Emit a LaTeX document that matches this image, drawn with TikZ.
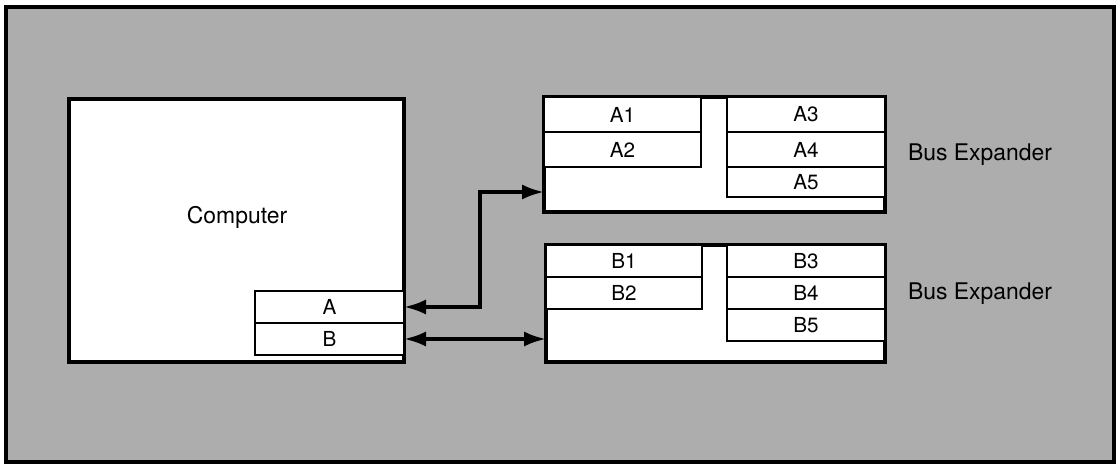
\documentclass[tikz,border=0pt]{standalone}
\usepackage{fontspec}
\setsansfont{TeX Gyre Heros}
\usetikzlibrary{calc, positioning}
\usetikzlibrary{arrows.meta}

\def\u{0.025}

\begin{document}
\begin{tikzpicture}[
    x=0.025cm,
    y=-0.025cm,
    slot/.style={draw, fill=white, line width=1.9pt, inner sep=0pt, outer sep=0pt,
        anchor=north west, font=\sffamily\fontsize{14.7}{16}\selectfont},
    case/.style={draw, fill=white, line width=2.2pt, inner sep=0pt, outer sep=0pt,
        anchor=north west},
    bus/.style={line width=2.6pt, {Latex[length=0.55cm, width=0.38cm]}-{Latex[length=0.55cm, width=0.38cm]}},
    tag/.style={font=\sffamily\fontsize{16.3}{18}\selectfont}
]
\useasboundingbox (0,0) rectangle (1117,464);

% Background panel
\draw[line width=2.4pt, fill=black!32] (6,7) rectangle (1114,462);

% Computer with its two ports
\node[case, minimum width={335*\u cm}, minimum height={263*\u cm}] (comp) at (69,99) {};
\node[tag] (complabel) at (237,217) {Computer};
\node[slot, minimum width={149*\u cm}, minimum height={32*\u cm}] (portA) at (255,291) {A};
\node[slot, minimum width={149*\u cm}, minimum height={32*\u cm}] (portB) at (255,323) {B};

% Bus expander A
\node[case, minimum width={341*\u cm}, minimum height={115*\u cm}] (expA) at (544,97) {};
\node[slot, minimum width={157*\u cm}, minimum height={35*\u cm}] (a1) at (544,97) {A1};
\node[slot, minimum width={157*\u cm}, minimum height={35*\u cm}] (a2) at (544,132) {A2};
\node[slot, minimum width={158*\u cm}, minimum height={35*\u cm}] (a3) at (727,97) {A3};
\node[slot, minimum width={158*\u cm}, minimum height={35*\u cm}] (a4) at (727,132) {A4};
\node[slot, minimum width={158*\u cm}, minimum height={30*\u cm}] (a5) at (727,167) {A5};
\node[tag] (labA) at (980,155) {Bus Expander};

% Bus expander B
\node[case, minimum width={339*\u cm}, minimum height={117*\u cm}] (expB) at (546,245) {};
\node[slot, minimum width={156*\u cm}, minimum height={32*\u cm}] (b1) at (546,245) {B1};
\node[slot, minimum width={156*\u cm}, minimum height={32*\u cm}] (b2) at (546,277) {B2};
\node[slot, minimum width={158*\u cm}, minimum height={32*\u cm}] (b3) at (727,245) {B3};
\node[slot, minimum width={158*\u cm}, minimum height={32*\u cm}] (b4) at (727,277) {B4};
\node[slot, minimum width={158*\u cm}, minimum height={32*\u cm}] (b5) at (727,309) {B5};
\node[tag] (labB) at (980,294) {Bus Expander};

% Cables
\coordinate (bend) at (480,192);
\draw[bus] (portA.east) -| (bend) -- (bend -| expA.west);
\draw[bus] (portB.east) -- (portB.east -| expB.west);
\end{tikzpicture}
\end{document}
